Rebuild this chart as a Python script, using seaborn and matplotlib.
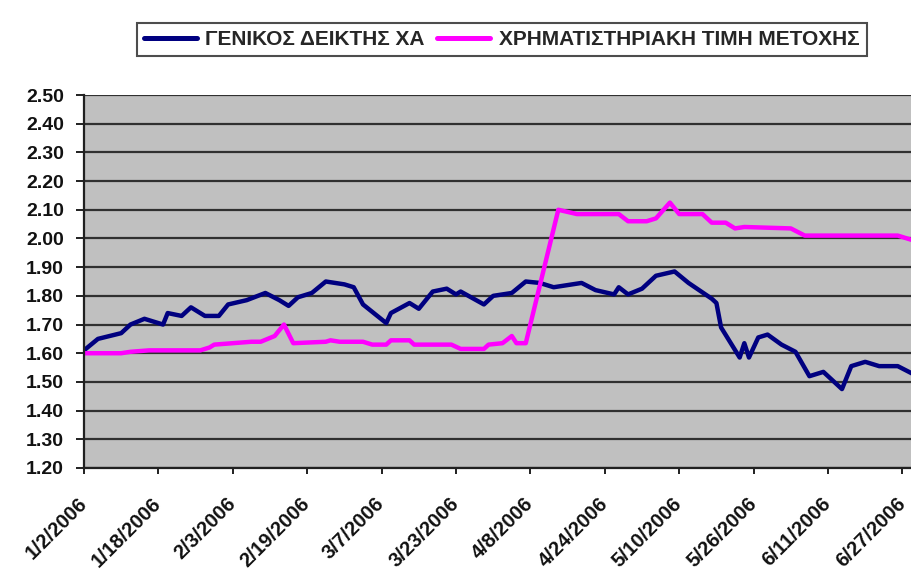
import matplotlib
matplotlib.use("Agg")
import matplotlib.pyplot as plt
from matplotlib.lines import Line2D
import numpy as np
import pandas as pd
import seaborn as sns

# ---------------- data ----------------
SERIES_NAMES = ["ΓΕΝΙΚΟΣ ΔΕΙΚΤΗΣ ΧΑ", "ΧΡΗΜΑΤΙΣΤΗΡΙΑΚΗ ΤΙΜΗ ΜΕΤΟΧΗΣ"]
SERIES_COLORS = ["#000080", "#FF00FF"]

INDEX_DATES = [
    "2006-01-02", "2006-01-05", "2006-01-10", "2006-01-12", "2006-01-15", "2006-01-19",
    "2006-01-20", "2006-01-23", "2006-01-25", "2006-01-28", "2006-01-31", "2006-02-02",
    "2006-02-06", "2006-02-10", "2006-02-13", "2006-02-15", "2006-02-17", "2006-02-20",
    "2006-02-23", "2006-02-27", "2006-03-01", "2006-03-03", "2006-03-08", "2006-03-09",
    "2006-03-13", "2006-03-15", "2006-03-18", "2006-03-21", "2006-03-23", "2006-03-24",
    "2006-03-29", "2006-03-31", "2006-04-04", "2006-04-07", "2006-04-10", "2006-04-13",
    "2006-04-19", "2006-04-22", "2006-04-26", "2006-04-27", "2006-04-29", "2006-05-02",
    "2006-05-05", "2006-05-09", "2006-05-12", "2006-05-17", "2006-05-18", "2006-05-19",
    "2006-05-23", "2006-05-24", "2006-05-25", "2006-05-27", "2006-05-29", "2006-06-01",
    "2006-06-04", "2006-06-07", "2006-06-10", "2006-06-14", "2006-06-16", "2006-06-19",
    "2006-06-22", "2006-06-26", "2006-06-29",
]
INDEX_VALUES = [
    1.61, 1.65, 1.67, 1.70, 1.72, 1.70,
    1.74, 1.73, 1.76, 1.73, 1.73, 1.77,
    1.785, 1.81, 1.785, 1.765, 1.795, 1.81,
    1.85, 1.84, 1.83, 1.77, 1.705, 1.74,
    1.775, 1.755, 1.815, 1.825, 1.805, 1.815,
    1.77, 1.80, 1.81, 1.85, 1.845, 1.83,
    1.845, 1.82, 1.805, 1.83, 1.805, 1.825,
    1.87, 1.885, 1.845, 1.79, 1.775, 1.69,
    1.585, 1.635, 1.585, 1.655, 1.665, 1.63,
    1.605, 1.52, 1.535, 1.475, 1.555, 1.57,
    1.555, 1.555, 1.53,
]

PRICE_DATES = [
    "2006-01-02", "2006-01-10", "2006-01-12", "2006-01-16", "2006-01-27", "2006-01-29",
    "2006-01-30", "2006-02-03", "2006-02-07", "2006-02-09", "2006-02-12", "2006-02-14",
    "2006-02-16", "2006-02-23", "2006-02-24", "2006-02-26", "2006-03-03", "2006-03-05",
    "2006-03-08", "2006-03-09", "2006-03-13", "2006-03-14", "2006-03-22", "2006-03-24",
    "2006-03-29", "2006-03-30", "2006-04-02", "2006-04-04", "2006-04-05", "2006-04-07",
    "2006-04-14", "2006-04-18", "2006-04-27", "2006-04-29", "2006-05-03", "2006-05-05",
    "2006-05-08", "2006-05-10", "2006-05-15", "2006-05-17", "2006-05-20", "2006-05-22",
    "2006-05-24", "2006-06-03", "2006-06-06", "2006-06-26", "2006-06-29",
]
PRICE_VALUES = [
    1.60, 1.60, 1.605, 1.61, 1.61, 1.62,
    1.63, 1.635, 1.64, 1.64, 1.66, 1.70,
    1.635, 1.64, 1.645, 1.64, 1.64, 1.63,
    1.63, 1.645, 1.645, 1.63, 1.63, 1.615,
    1.615, 1.63, 1.635, 1.66, 1.635, 1.635,
    2.10, 2.085, 2.085, 2.06, 2.06, 2.07,
    2.125, 2.085, 2.085, 2.055, 2.055, 2.035,
    2.04, 2.035, 2.01, 2.01, 1.995,
]

X_TICK_LABELS = ["1/2/2006", "1/18/2006", "2/3/2006", "2/19/2006", "3/7/2006", "3/23/2006",
                 "4/8/2006", "4/24/2006", "5/10/2006", "5/26/2006", "6/11/2006", "6/27/2006"]
Y_TICK_LABELS = ["1.20", "1.30", "1.40", "1.50", "1.60", "1.70", "1.80", "1.90",
                 "2.00", "2.10", "2.20", "2.30", "2.40", "2.50"]

# ---------------- build table ----------------
df = pd.concat([
    pd.DataFrame({"date": pd.to_datetime(INDEX_DATES), "value": INDEX_VALUES,
                  "series": SERIES_NAMES[0]}),
    pd.DataFrame({"date": pd.to_datetime(PRICE_DATES), "value": PRICE_VALUES,
                  "series": SERIES_NAMES[1]}),
], ignore_index=True)

sns.set_theme(style="white")
plt.rcParams["font.family"] = ["Liberation Sans", "DejaVu Sans"]
plt.rcParams["font.weight"] = "bold"

fig = plt.figure(figsize=(9.12, 5.76), dpi=100)
fig.patch.set_facecolor("white")
ax = fig.add_axes([84 / 912, 108 / 576, 828 / 912, 373 / 576])
ax.set_facecolor("#C0C0C0")

sns.lineplot(data=df, x="date", y="value", hue="series", hue_order=SERIES_NAMES,
             palette=SERIES_COLORS, linewidth=3.2, estimator=None, legend=False, ax=ax)

# axes ranges
start = pd.Timestamp("2006-01-02")
ax.set_xlim(start, start + pd.Timedelta(days=178.06))
yt = [float(t) for t in Y_TICK_LABELS]
ax.set_ylim(yt[0], yt[-1])
ax.set_yticks(yt)
ax.set_yticklabels(Y_TICK_LABELS)
xt = pd.to_datetime(X_TICK_LABELS, format="%m/%d/%Y")
ax.set_xticks(xt)
ax.set_xticklabels(X_TICK_LABELS, rotation=45, ha="right", va="center",
                   rotation_mode="anchor")

ax.set_xlabel("")
ax.set_ylabel("")

ax.yaxis.grid(True, color="#303030", linewidth=1.6)
ax.xaxis.grid(False)
ax.set_axisbelow(True)

for s in ["top", "right"]:
    ax.spines[s].set_visible(False)
for s in ["left", "bottom"]:
    ax.spines[s].set_color("#202020")
    ax.spines[s].set_linewidth(1.6)

ax.tick_params(axis="y", direction="out", length=5.5, width=1.4, color="#202020",
               pad=9, labelsize=14, labelcolor="#111111", left=True)
ax.tick_params(axis="x", direction="out", length=4.5, width=1.4, color="#202020",
               pad=19, labelsize=14.5, labelcolor="#111111", bottom=True)
for lab in ax.get_xticklabels() + ax.get_yticklabels():
    lab.set_fontweight("bold")

handles = [Line2D([0], [0], color=c, lw=3.6) for c in SERIES_COLORS]
leg = fig.legend(handles, SERIES_NAMES, loc="upper center",
                 bbox_to_anchor=(0.55, 0.979), ncol=2, frameon=True, fancybox=False,
                 edgecolor="#202020", handlelength=2.55,
                 handletextpad=0.4, columnspacing=0.6, borderpad=0.35,
                 prop={"weight": "bold", "size": 15})
leg.get_frame().set_linewidth(1.5)

fig.savefig("out.png", dpi=100, facecolor="white")
